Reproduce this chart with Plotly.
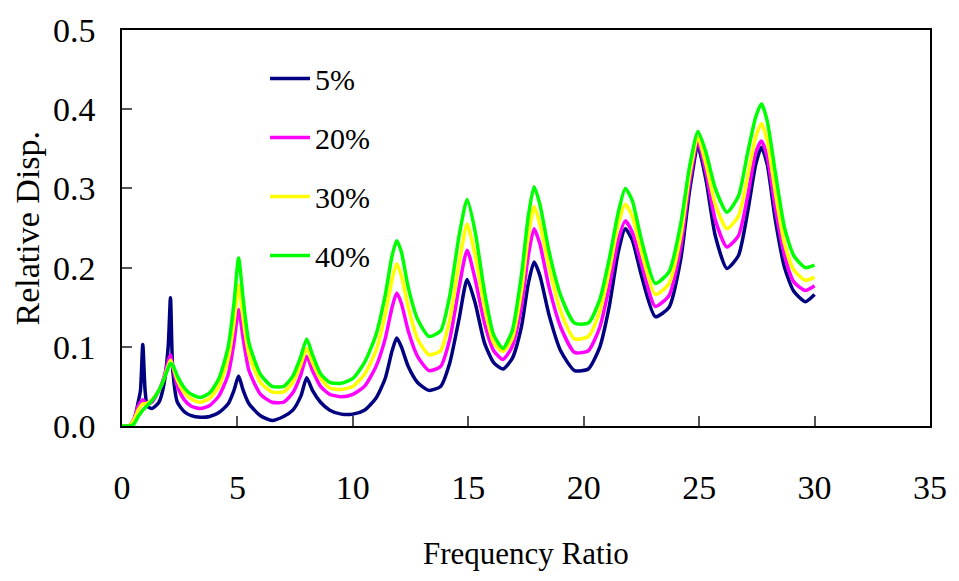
import plotly.graph_objects as go

x_ratio = [0, 0.3, 0.5, 0.7, 0.8, 0.9, 1.0, 1.1, 1.3, 1.6, 1.8, 2.0, 2.1, 2.2, 2.4, 2.7,
           3.0, 3.4, 3.8, 4.2, 4.6, 4.85, 5.05, 5.25, 5.5, 6.0, 6.5, 7.0, 7.4, 7.75, 8.0,
           8.25, 8.6, 9.0, 9.5, 10.0, 10.5, 11.0, 11.4, 11.7, 11.9, 12.1, 12.4, 12.8, 13.3,
           13.8, 14.2, 14.6, 14.95, 15.3, 15.7, 16.1, 16.5, 16.9, 17.3, 17.6, 17.85, 18.1,
           18.5, 19.0, 19.6, 20.2, 20.7, 21.1, 21.5, 21.8, 22.1, 22.5, 23.1, 23.7, 24.2,
           24.6, 24.95, 25.3, 25.7, 26.2, 26.7, 27.1, 27.45, 27.7, 27.95, 28.3, 28.7, 29.1,
           29.6, 30.0]

disp_5 = [0, 0, 0.005, 0.03, 0.045, 0.103, 0.045, 0.025, 0.022, 0.03, 0.05, 0.1, 0.162, 0.07,
          0.03, 0.018, 0.013, 0.011, 0.012, 0.017, 0.028, 0.045, 0.063, 0.045, 0.028, 0.013,
          0.007, 0.012, 0.02, 0.038, 0.061, 0.045, 0.03, 0.02, 0.015, 0.015, 0.02, 0.035,
          0.06, 0.095, 0.111, 0.1, 0.075, 0.055, 0.045, 0.05, 0.08, 0.135, 0.185, 0.155,
          0.105, 0.08, 0.072, 0.085, 0.125, 0.18, 0.207, 0.19, 0.14, 0.095, 0.07, 0.072,
          0.1, 0.15, 0.22, 0.249, 0.235, 0.19, 0.138, 0.15, 0.21, 0.3, 0.352, 0.31, 0.24,
          0.199, 0.215, 0.27, 0.33, 0.352, 0.33, 0.26, 0.2, 0.17, 0.157, 0.166]

disp_20 = [0, 0, 0.008, 0.025, 0.03, 0.033, 0.03, 0.028, 0.03, 0.045, 0.06, 0.082, 0.09, 0.075,
           0.05, 0.033, 0.025, 0.022, 0.026, 0.038, 0.065, 0.105, 0.147, 0.11, 0.07, 0.04,
           0.03, 0.03, 0.042, 0.065, 0.088, 0.07, 0.05, 0.04, 0.037, 0.04, 0.05, 0.075,
           0.11, 0.15, 0.168, 0.155, 0.12, 0.088, 0.07, 0.075, 0.11, 0.175, 0.222, 0.185,
           0.13, 0.095, 0.084, 0.1, 0.15, 0.215, 0.249, 0.23, 0.175, 0.125, 0.093, 0.095,
           0.125, 0.175, 0.235, 0.259, 0.245, 0.205, 0.151, 0.165, 0.225, 0.31, 0.358, 0.32,
           0.26, 0.226, 0.24, 0.29, 0.345, 0.36, 0.34, 0.275, 0.215, 0.182, 0.171, 0.177]

disp_30 = [0, 0, 0.007, 0.02, 0.025, 0.028, 0.028, 0.029, 0.033, 0.045, 0.058, 0.076, 0.083,
           0.076, 0.058, 0.042, 0.034, 0.03, 0.035, 0.05, 0.085, 0.13, 0.178, 0.135, 0.09,
           0.055, 0.043, 0.043, 0.055, 0.078, 0.098, 0.08, 0.06, 0.048, 0.046, 0.05, 0.065,
           0.095, 0.14, 0.185, 0.205, 0.19, 0.15, 0.11, 0.09, 0.095, 0.135, 0.205, 0.255,
           0.215, 0.15, 0.105, 0.094, 0.11, 0.17, 0.24, 0.277, 0.255, 0.2, 0.145, 0.11,
           0.113, 0.145, 0.195, 0.255, 0.28, 0.265, 0.22, 0.166, 0.18, 0.24, 0.32, 0.364,
           0.33, 0.28, 0.249, 0.265, 0.315, 0.365, 0.382, 0.36, 0.295, 0.23, 0.197, 0.184,
           0.188]

disp_40 = [0, 0, 0.002, 0.012, 0.016, 0.02, 0.023, 0.026, 0.032, 0.045, 0.058, 0.073, 0.079,
           0.077, 0.063, 0.048, 0.04, 0.036, 0.042, 0.06, 0.1, 0.155, 0.212, 0.16, 0.105,
           0.065, 0.05, 0.05, 0.063, 0.088, 0.11, 0.09, 0.066, 0.055, 0.054, 0.06, 0.08,
           0.115, 0.165, 0.215, 0.234, 0.22, 0.175, 0.135, 0.113, 0.12, 0.165, 0.24, 0.286,
           0.245, 0.17, 0.115, 0.098, 0.12, 0.19, 0.265, 0.302, 0.28, 0.22, 0.165, 0.13,
           0.13, 0.16, 0.21, 0.27, 0.3, 0.285, 0.235, 0.18, 0.195, 0.255, 0.33, 0.372,
           0.345, 0.3, 0.27, 0.29, 0.345, 0.39, 0.407, 0.385, 0.32, 0.25, 0.215, 0.2, 0.203]

series_names = ["5%", "20%", "30%", "40%"]
series_colors = ["#000080", "#FF00FF", "#FFFF00", "#00FF00"]
series_values = [disp_5, disp_20, disp_30, disp_40]

x_ticks = [0, 5, 10, 15, 20, 25, 30, 35]
y_ticks = [0.0, 0.1, 0.2, 0.3, 0.4, 0.5]

FONT = "Liberation Serif"

fig = go.Figure()
for name, color, vals in zip(series_names, series_colors, series_values):
    fig.add_trace(go.Scatter(x=x_ratio, y=vals, mode="lines", name=name,
                             legendgroup=name,
                             line=dict(color=color, width=3.5, shape="spline",
                                       smoothing=0.6)))

axis_common = dict(showline=True, mirror=True, linecolor="#000000", linewidth=1.5,
                   ticks="inside", ticklen=10, tickcolor="#555555", tickwidth=1.5,
                   showgrid=False, zeroline=False,
                   tickfont=dict(family=FONT, size=34, color="#000000"))

fig.update_layout(
    width=959, height=581,
    margin=dict(l=122, r=22, t=22, b=155),
    paper_bgcolor="white", plot_bgcolor="white",
    font=dict(family=FONT, color="#000000"),
    xaxis=dict(range=[0, 35], tickvals=x_ticks, ticklabelstandoff=30, **axis_common),
    yaxis=dict(range=[0, 0.5], tickvals=y_ticks, tickformat=".1f",
               ticklabelstandoff=18, **axis_common),
    legend=dict(x=0.177, y=0.943, xanchor="left", yanchor="top",
                bgcolor="rgba(0,0,0,0)", borderwidth=0,
                font=dict(family=FONT, size=30, color="#000000"),
                traceorder="grouped", tracegroupgap=17, itemwidth=40),
    showlegend=True,
    annotations=[
        dict(text="Frequency Ratio", xref="paper", yref="paper", x=0.5, y=-0.322,
             xanchor="center", yanchor="middle", showarrow=False,
             font=dict(family=FONT, size=31, color="#000000")),
        dict(text="Relative Disp.", xref="paper", yref="paper", x=-0.117, y=0.5,
             xanchor="center", yanchor="middle", textangle=-90, showarrow=False,
             font=dict(family=FONT, size=34, color="#000000")),
    ],
)

fig.write_html("out.html")
